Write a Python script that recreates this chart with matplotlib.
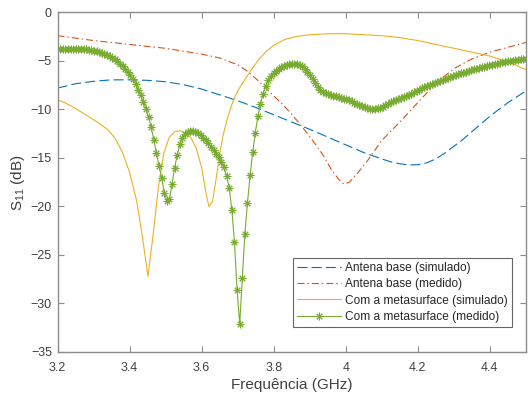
import numpy as np
import matplotlib
matplotlib.use("Agg")
import matplotlib.pyplot as plt

plt.rcParams['font.family'] = ['Liberation Sans', 'DejaVu Sans']
plt.rcParams['mathtext.fontset'] = 'custom'
plt.rcParams['mathtext.rm'] = 'Liberation Sans'
plt.rcParams['lines.scale_dashes'] = False

# antena base, simulated and measured
f_base_sim = [3.20, 3.25, 3.30, 3.35, 3.40, 3.45, 3.50, 3.55, 3.60, 3.65, 3.70, 3.75, 3.80,
              3.85, 3.90, 3.95, 4.00, 4.05, 4.10, 4.125, 4.15, 4.175, 4.20, 4.225, 4.25, 4.275,
              4.30, 4.325, 4.35, 4.375, 4.40, 4.425, 4.45, 4.475, 4.50]
s11_base_sim = [-7.8, -7.35, -7.1, -6.95, -6.95, -7.0, -7.15, -7.45, -7.9, -8.5, -9.1, -9.8, -10.55,
                -11.3, -12.05, -12.85, -13.65, -14.45, -15.1, -15.4, -15.6, -15.72, -15.7, -15.5, -15.1, -14.5,
                -13.8, -13.1, -12.3, -11.5, -10.7, -10.0, -9.3, -8.7, -8.1]

f_base_med = [3.20, 3.25, 3.30, 3.35, 3.40, 3.45, 3.50, 3.55, 3.60, 3.65, 3.70, 3.725, 3.75, 3.775,
              3.80, 3.825, 3.85, 3.875, 3.90, 3.92, 3.94, 3.96, 3.98, 3.995, 4.01, 4.03, 4.06, 4.10,
              4.15, 4.20, 4.25, 4.30, 4.35, 4.40, 4.45, 4.50]
s11_base_med = [-2.4, -2.65, -2.9, -3.1, -3.3, -3.5, -3.7, -4.0, -4.3, -4.7, -5.4, -6.0, -6.8, -7.7,
                -8.6, -9.5, -10.5, -11.6, -12.8, -13.8, -14.9, -16.2, -17.2, -17.7, -17.5, -16.7, -15.3, -13.2,
                -11.3, -9.3, -7.3, -5.8, -4.8, -4.1, -3.6, -3.1]

# with metasurface, simulated
f_meta_sim = [3.20, 3.22, 3.25, 3.28, 3.31, 3.34, 3.36, 3.38, 3.40, 3.42, 3.435, 3.451, 3.465, 3.48,
              3.495, 3.51, 3.525, 3.54, 3.555, 3.57, 3.585, 3.60, 3.612, 3.62, 3.63, 3.64, 3.65, 3.66,
              3.67, 3.68, 3.69, 3.70, 3.72, 3.74, 3.76, 3.78, 3.80, 3.83, 3.86, 3.90, 3.95, 4.00,
              4.05, 4.10, 4.15, 4.20, 4.25, 4.30, 4.35, 4.40, 4.45, 4.50]
s11_meta_sim = [-9.0, -9.3, -9.9, -10.6, -11.3, -12.1, -13.0, -14.4, -16.5, -19.5, -23.0, -27.2, -23.0, -18.0,
                -14.5, -12.9, -12.3, -12.2, -12.4, -12.9, -14.0, -16.0, -18.6, -20.0, -19.5, -17.2, -14.6, -12.6,
                -11.1, -9.9, -8.9, -8.1, -6.9, -5.8, -4.8, -4.0, -3.4, -2.8, -2.5, -2.3, -2.2, -2.2,
                -2.3, -2.4, -2.6, -2.9, -3.3, -3.7, -4.1, -4.5, -5.1, -5.9]

# with metasurface, measured (181 sweep points, 3.2 - 4.5 GHz)
f_meta_med = np.linspace(3.2, 4.5, 181)
s11_meta_med = [
    -3.80, -3.78, -3.77, -3.77, -3.76, -3.76, -3.77, -3.77, -3.78, -3.79,
    -3.80, -3.82, -3.85, -3.88, -3.93, -3.99, -4.06, -4.15, -4.25, -4.37,
    -4.51, -4.67, -4.85, -5.05, -5.27, -5.52, -5.80, -6.12, -6.48, -6.90,
    -7.40, -7.95, -8.55, -9.20, -9.95, -10.80, -11.85, -13.10, -14.50, -15.80,
    -17.05, -18.60, -19.40, -19.25, -17.70, -16.00, -14.70, -13.60, -12.90, -12.50,
    -12.30, -12.22, -12.20, -12.30, -12.45, -12.65, -12.90, -13.20, -13.50, -13.85,
    -14.20, -14.55, -14.95, -15.40, -15.95, -16.90, -18.10, -20.40, -23.70, -28.60,
    -32.10, -27.40, -22.80, -19.60, -16.80, -14.40, -12.40, -10.70, -9.40, -8.40,
    -7.60, -7.00, -6.55, -6.25, -6.00, -5.80, -5.65, -5.52, -5.42, -5.36,
    -5.32, -5.30, -5.32, -5.40, -5.55, -5.80, -6.10, -6.45, -6.85, -7.25,
    -7.65, -7.95, -8.20, -8.35, -8.45, -8.52, -8.58, -8.65, -8.72, -8.80,
    -8.88, -8.97, -9.07, -9.18, -9.30, -9.42, -9.55, -9.67, -9.78, -9.87,
    -9.93, -9.96, -9.95, -9.90, -9.82, -9.70, -9.56, -9.42, -9.28, -9.16,
    -9.05, -8.93, -8.82, -8.71, -8.60, -8.48, -8.36, -8.23, -8.10, -7.97,
    -7.84, -7.72, -7.60, -7.48, -7.37, -7.27, -7.16, -7.06, -6.96, -6.86,
    -6.76, -6.66, -6.56, -6.47, -6.38, -6.29, -6.20, -6.11, -6.03, -5.95,
    -5.87, -5.80, -5.73, -5.66, -5.59, -5.52, -5.45, -5.39, -5.33, -5.27,
    -5.21, -5.15, -5.10, -5.05, -5.00, -4.96, -4.92, -4.88, -4.84, -4.80,
    -4.77]

labels = ["Antena base (simulado)", "Antena base (medido)",
          "Com a metasurface (simulado)", "Com a metasurface (medido)"]

fig = plt.figure(figsize=(5.28, 4.0), dpi=100)
ax = fig.add_axes([0.109, 0.12, 0.887, 0.849])

ax.plot(f_base_sim, s11_base_sim, color='#0072BD', lw=0.8, linestyle=(0, (7.2, 3.0)), label=labels[0])
ax.plot(f_base_med, s11_base_med, color='#D95319', lw=0.8, linestyle=(0, (5.0, 2.2, 1.0, 2.2)), label=labels[1])
ax.plot(f_meta_sim, s11_meta_sim, color='#EDB120', lw=0.8, label=labels[2])
ax.plot(f_meta_med, s11_meta_med, color='#77AC30', lw=0.8, marker=(8, 2, 0), markersize=5.5,
        markeredgewidth=0.7, label=labels[3])

ax.set_xlim(3.2, 4.5)
ax.set_ylim(-35, 0)
ax.set_xticks(np.arange(3.2, 4.41, 0.2))
ax.set_xticklabels(['3.2', '3.4', '3.6', '3.8', '4', '4.2', '4.4'])
ax.set_yticks(np.arange(-35, 1, 5))

for s in ax.spines.values():
    s.set_color('#8c8c8c')
    s.set_linewidth(1.0)
ax.tick_params(direction='in', length=4, width=0.8, color='#8c8c8c', labelsize=9,
               labelcolor='#404040', top=True, right=True)
ax.tick_params(axis='x', pad=7)
ax.tick_params(axis='y', pad=4)

ax.set_xlabel('Frequência (GHz)', fontsize=11, color='#404040', labelpad=3)
ax.set_ylabel(r'S$_{\mathregular{11}}$ (dB)', fontsize=11, color='#404040', labelpad=3)

leg = ax.legend(loc='lower right', bbox_to_anchor=(0.970, 0.0735), fontsize=8.6, frameon=True,
                fancybox=False, handlelength=3.7, handletextpad=0.3, borderpad=0.35,
                labelspacing=0.35, borderaxespad=0)
leg.get_frame().set_edgecolor('#404040')
leg.get_frame().set_linewidth(0.8)
for t in leg.get_texts():
    t.set_color('#262626')

fig.savefig('out.png', dpi=100)
